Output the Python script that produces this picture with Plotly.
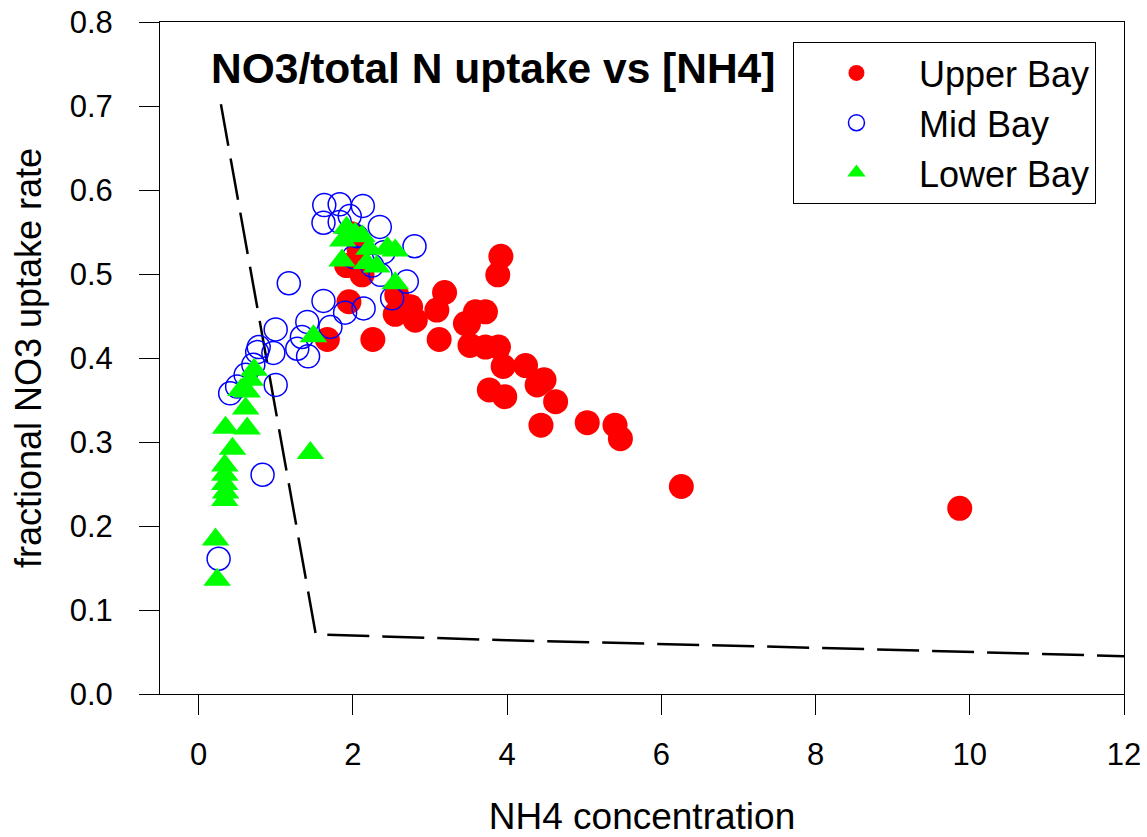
import plotly.graph_objects as go

# Upper Bay (red filled circles)
upper_x = [9.87, 6.26, 5.40, 5.47, 5.04, 4.63, 4.39, 4.48, 4.44, 3.97, 3.77, 4.24, 3.95, 3.89,
           3.72, 3.52, 3.50, 3.72, 3.59, 3.88, 3.92, 3.19, 3.09, 3.12, 1.95, 1.67, 2.26, 1.92,
           2.12, 2.55, 2.57, 2.81, 2.75, 3.46, 1.98, 2.08]
upper_y = [0.221, 0.247, 0.320, 0.304, 0.323, 0.348, 0.368, 0.374, 0.320, 0.354, 0.362, 0.391, 0.390, 0.413,
           0.413, 0.415, 0.441, 0.455, 0.455, 0.499, 0.521, 0.478, 0.457, 0.422, 0.467, 0.422, 0.422, 0.510,
           0.499, 0.452, 0.475, 0.445, 0.461, 0.441, 0.548, 0.530]

# Mid Bay (blue open circles)
mid_x = [1.63, 1.83, 2.13, 1.62, 1.83, 1.96, 2.35, 2.80, 2.40, 2.36, 2.70, 2.51, 1.17, 1.62,
         2.14, 1.90, 1.71, 1.41, 1.34, 1.28, 1.42, 1.00, 0.97, 0.76, 0.71, 0.61, 0.50, 0.41,
         1.00, 0.78, 0.83, 0.26, 2.01, 2.25, 2.05]
mid_y = [0.582, 0.583, 0.581, 0.561, 0.562, 0.569, 0.556, 0.533, 0.526, 0.499, 0.491, 0.471, 0.489, 0.468,
         0.459, 0.454, 0.437, 0.443, 0.425, 0.411, 0.402, 0.434, 0.406, 0.407, 0.392, 0.380, 0.366, 0.358,
         0.368, 0.413, 0.261, 0.161, 0.520, 0.510, 0.545]

# Lower Bay (green triangles)
lower_x = [0.22, 0.24, 0.34, 0.35, 0.34, 0.34, 0.34, 0.44, 0.35, 0.63, 0.61, 0.63, 0.55, 0.67,
           0.72, 1.45, 1.49, 1.92, 1.87, 2.12, 1.86, 2.21, 2.45, 2.55, 2.31, 2.18, 2.55, 2.03]
lower_y = [0.184, 0.136, 0.231, 0.240, 0.250, 0.261, 0.272, 0.292, 0.317, 0.316, 0.340, 0.360, 0.362, 0.374,
           0.386, 0.287, 0.426, 0.555, 0.540, 0.545, 0.516, 0.530, 0.531, 0.528, 0.509, 0.513, 0.489, 0.548]

# Dashed reference curve
curve_x = [0.29, 1.52, 4.0, 8.0, 12.0]
curve_y = [0.702, 0.071, 0.064, 0.055, 0.045]

FONT = "Liberation Sans, Arial, sans-serif"

fig = go.Figure()
fig.add_trace(go.Scatter(x=curve_x, y=curve_y, mode="lines", showlegend=False,
                         line=dict(color="black", width=2.5, dash="42px,13px")))
fig.add_trace(go.Scatter(x=upper_x, y=upper_y, mode="markers", name="Upper Bay",
                         marker=dict(symbol="circle", size=25, color="#FF0000", line=dict(width=0))))
fig.add_trace(go.Scatter(x=mid_x, y=mid_y, mode="markers", name="Mid Bay",
                         marker=dict(symbol="circle-open", size=23, color="#0000FF", line=dict(width=1.5))))
fig.add_trace(go.Scatter(x=lower_x, y=lower_y, mode="markers", name="Lower Bay",
                         marker=dict(symbol="triangle-up", size=24, color="#00FF00", line=dict(width=0))))

fig.add_annotation(text="<b>NO3/total N uptake vs [NH4]</b>", xref="paper", yref="paper",
                   x=0.051, y=0.9315, xanchor="left", yanchor="middle", showarrow=False,
                   font=dict(family=FONT, size=42.5, color="black"))

fig.update_layout(
    width=1147, height=837,
    margin=dict(l=160, r=23, t=22, b=143, autoexpand=False),
    paper_bgcolor="white", plot_bgcolor="white",
    font=dict(family=FONT, color="black"),
    legend=dict(x=0.6566, y=0.9702, xanchor="left", yanchor="top",
                bordercolor="black", borderwidth=1, bgcolor="white",
                font=dict(family=FONT, size=36), itemwidth=115),
)
fig.update_xaxes(range=[-0.5, 12], tickvals=[0, 2, 4, 6, 8, 10, 12], showgrid=False, zeroline=False,
                 showline=True, linecolor="black", linewidth=1, mirror=True, automargin=False,
                 ticks="outside", ticklen=20, tickwidth=1, tickcolor="black",
                 tickfont=dict(size=31), ticklabelstandoff=13, ticklabeloverflow="allow",
                 title=dict(text="NH4 concentration", font=dict(size=37), standoff=36))
fig.update_yaxes(range=[0, 0.8], dtick=0.1, tickformat=".1f", showgrid=False, zeroline=False,
                 showline=True, linecolor="black", linewidth=1, mirror=True, automargin=False,
                 ticks="outside", ticklen=20, tickwidth=1, tickcolor="black",
                 tickfont=dict(size=31), ticklabelstandoff=20, ticklabeloverflow="allow",
                 title=dict(text="fractional NO3 uptake rate", font=dict(size=36), standoff=17))

# remove the browser's default 8px page margin so the figure fills the window exactly
fig.write_html("out.html", config={"displayModeBar": False},
               post_script="document.body.style.margin='0';")
